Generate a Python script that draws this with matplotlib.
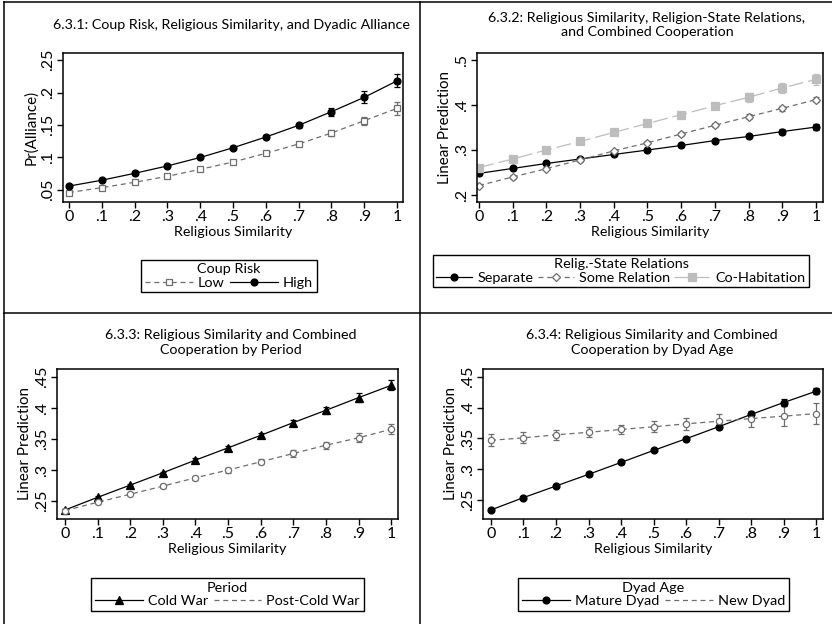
import numpy as np
import matplotlib as mpl
import matplotlib.pyplot as plt
from matplotlib.lines import Line2D

W, H = 832, 624

mpl.rcParams.update({
    "font.family": ["Lato", "DejaVu Sans"],
    "font.size": 9,
    "axes.linewidth": 1.1,
    "xtick.direction": "out",
    "ytick.direction": "out",
    "xtick.major.size": 4,
    "ytick.major.size": 4,
    "xtick.major.width": 1.0,
    "ytick.major.width": 1.0,
    "xtick.labelsize": 11.5,
    "ytick.labelsize": 11.5,
})

x = [0, .1, .2, .3, .4, .5, .6, .7, .8, .9, 1]
x_ticks = [0, .1, .2, .3, .4, .5, .6, .7, .8, .9, 1]

# 6.3.1 coup risk
low_coup = [.046, .0536, .0618, .071, .0818, .093, .1064, .1208, .1377, .1567, .1756]
low_coup_err = [.001, .0015, .002, .002, .002, .002, .003, .003, .004, .006, .010]
high_coup = [.056, .065, .0756, .087, .100, .115, .1315, .1495, .1705, .1926, .218]
high_coup_err = [.001, .0015, .002, .002, .002, .002, .003, .004, .006, .009, .010]

# 6.3.2 religion-state relations
separate = [.248, .259, .270, .280, .290, .300, .310, .321, .330, .341, .351]
separate_err = [.004, .003, .003, .003, .003, .003, .003, .004, .004, .005, .006]
some_rel = [.221, .240, .2585, .278, .298, .316, .3356, .355, .374, .3926, .412]
some_rel_err = [.004, .004, .003, .003, .003, .003, .004, .004, .005, .005, .006]
cohab = [.261, .280, .300, .319, .339, .359, .3785, .3985, .417, .438, .457]
cohab_err = [.004, .004, .004, .004, .005, .005, .006, .008, .010, .012, .013]

# 6.3.3 period
cold_war = [.2355, .256, .2757, .2956, .316, .3358, .356, .3765, .3964, .4168, .4366]
cold_war_err = [.002, .002, .002, .002, .003, .003, .004, .005, .006, .007, .008]
post_cold = [.2345, .248, .261, .274, .2875, .300, .3133, .3267, .340, .352, .3658]
post_cold_err = [.002, .002, .002, .003, .003, .004, .004, .005, .006, .007, .008]

# 6.3.4 dyad age
mature = [.2338, .2538, .2727, .2916, .311, .3305, .3495, .369, .389, .4084, .4268]
mature_err = [.002, .002, .002, .002, .002, .003, .003, .003, .004, .005, .005]
new_dyad = [.347, .351, .356, .360, .3646, .369, .3738, .378, .3824, .3862, .3905]
new_dyad_err = [.010, .009, .008, .008, .008, .009, .010, .011, .013, .016, .017]

GRAY = "#6e6e6e"
LGRAY = "#bdbdbd"
TSIZE = 10.3     # panel titles
LSIZE = 10.3     # axis labels
GSIZE = 10.4     # legend text


def fmt(v):
    s = f"{v:g}"
    return s[1:] if s.startswith("0.") else s


def px_axes(fig, left, top, right, bottom):
    return fig.add_axes([left / W, 1 - bottom / H, (right - left) / W, (bottom - top) / H])


def style(ax, xlim, ylim, yticks, ylabel):
    ax.set_xlim(*xlim)
    ax.set_ylim(*ylim)
    ax.set_xticks(x_ticks)
    ax.set_xticklabels([fmt(t) for t in x_ticks])
    ax.set_yticks(yticks)
    ax.set_yticklabels([fmt(t) for t in yticks], rotation=90, va="center")
    ax.set_xlabel("Religious Similarity", fontsize=LSIZE, labelpad=1)
    ax.set_ylabel(ylabel, fontsize=LSIZE + 0.6, labelpad=2)
    ax.tick_params(pad=2)


def series(ax, y, err, color, ls, marker, mfc, ms, dashes=None):
    cont = ax.errorbar(x, y, yerr=err, color=color, linestyle=ls, linewidth=0.9,
                       marker=marker, markersize=ms, markerfacecolor=mfc,
                       markeredgecolor=color, markeredgewidth=0.9, ecolor=color,
                       elinewidth=0.9, capsize=2.5, capthick=0.9)
    if dashes is not None:
        cont[0].set_dashes(dashes)
    return cont


def handle(color, ls, marker, mfc, ms, dashes=None):
    h = Line2D([0], [0], color=color, linestyle=ls, linewidth=0.9, marker=marker,
               markersize=ms, markerfacecolor=mfc, markeredgecolor=color,
               markeredgewidth=0.9)
    if dashes is not None:
        h.set_dashes(dashes)
    return h


def legend(ax, handles, labels, title, cx, cy, hl=3.3, cs=0.4):
    leg = ax.legend(handles=handles, labels=labels, title=title, ncol=len(handles),
                    loc="center", bbox_to_anchor=(cx / W, 1 - cy / H),
                    bbox_transform=fig.transFigure, fancybox=False,
                    edgecolor="black", framealpha=1, fontsize=GSIZE,
                    title_fontsize=GSIZE, handlelength=hl, columnspacing=cs,
                    handletextpad=0.35, borderpad=0.25, labelspacing=0.1,
                    borderaxespad=0)
    leg.get_frame().set_linewidth(1.0)
    return leg


fig = plt.figure(figsize=(W / 100, H / 100), dpi=100)

# panel frames
for seg in [((4, 832), (2, 2)), ((4, 4), (2, 624)), ((420, 420), (2, 624)), ((4, 832), (313, 313))]:
    fig.add_artist(Line2D([s / W for s in seg[0]], [1 - s / H for s in seg[1]],
                          color="black", linewidth=1.1, transform=fig.transFigure))

# ---- 6.3.1
ax1 = px_axes(fig, 63, 53, 403, 202)
series(ax1, low_coup, low_coup_err, GRAY, "--", "s", "white", 4.5, dashes=(4, 3))
series(ax1, high_coup, high_coup_err, "black", "-", "o", "black", 5)
style(ax1, (-0.018, 1.018), (.0315, .2608), [.05, .1, .15, .2, .25], "Pr(Alliance)")
fig.text(231 / W, 1 - 25 / H, "6.3.1: Coup Risk, Religious Similarity, and Dyadic Alliance",
         ha="center", va="center", fontsize=TSIZE)
legend(ax1, [handle(GRAY, "--", "s", "white", 4.5, (4, 3)),
             handle("black", "-", "o", "black", 5)],
       ["Low", "High"], "Coup Risk", 229, 276)

# ---- 6.3.2
ax2 = px_axes(fig, 477, 53, 823, 202)
series(ax2, separate, separate_err, "black", "-", "o", "black", 5)
series(ax2, some_rel, some_rel_err, GRAY, "--", "D", "white", 4, dashes=(4, 3))
series(ax2, cohab, cohab_err, LGRAY, "-", "s", LGRAY, 5.5, dashes=(12, 4))
style(ax2, (-0.006, 1.021), (.1844, .5156), [.2, .3, .4, .5], "Linear Prediction")
fig.text(647 / W, 1 - 25 / H,
         "6.3.2: Religious Similarity, Religion-State Relations,\nand Combined Cooperation",
         ha="center", va="center", fontsize=TSIZE, linespacing=1.25)
legend(ax2, [handle("black", "-", "o", "black", 5),
             handle(GRAY, "--", "D", "white", 4, (4, 3)),
             handle(LGRAY, "-", "s", LGRAY, 5.5, (12, 4))],
       ["Separate", "Some Relation", "Co-Habitation"],
       "Relig.-State Relations", 621, 271, hl=2.5, cs=0.3)

# ---- 6.3.3
ax3 = px_axes(fig, 57, 369, 398, 519)
series(ax3, cold_war, cold_war_err, "black", "-", "^", "black", 5.5)
series(ax3, post_cold, post_cold_err, GRAY, "--", "o", "white", 4.5, dashes=(4, 3))
style(ax3, (-0.0245, 1.021), (.221, .463), [.25, .3, .35, .4, .45], "Linear Prediction")
fig.text(231 / W, 1 - 342.5 / H,
         "6.3.3: Religious Similarity and Combined\nCooperation by Period",
         ha="center", va="center", fontsize=TSIZE, linespacing=1.25)
legend(ax3, [handle("black", "-", "^", "black", 5.5),
             handle(GRAY, "--", "None", "white", 4.5, (4, 3))],
       ["Cold War", "Post-Cold War"], "Period", 227.5, 594.5)

# ---- 6.3.4
ax4 = px_axes(fig, 483, 369, 823, 519)
series(ax4, mature, mature_err, "black", "-", "o", "black", 5)
series(ax4, new_dyad, new_dyad_err, GRAY, "--", "o", "white", 4.5, dashes=(4, 3))
style(ax4, (-0.0246, 1.0215), (.219, .463), [.25, .3, .35, .4, .45], "Linear Prediction")
fig.text(652 / W, 1 - 342.5 / H,
         "6.3.4: Religious Similarity and Combined\nCooperation by Dyad Age",
         ha="center", va="center", fontsize=TSIZE, linespacing=1.25)
legend(ax4, [handle("black", "-", "o", "black", 5),
             handle(GRAY, "--", "None", "white", 4.5, (4, 3))],
       ["Mature Dyad", "New Dyad"], "Dyad Age", 653.5, 594.5)

fig.savefig("out.png", dpi=100)
